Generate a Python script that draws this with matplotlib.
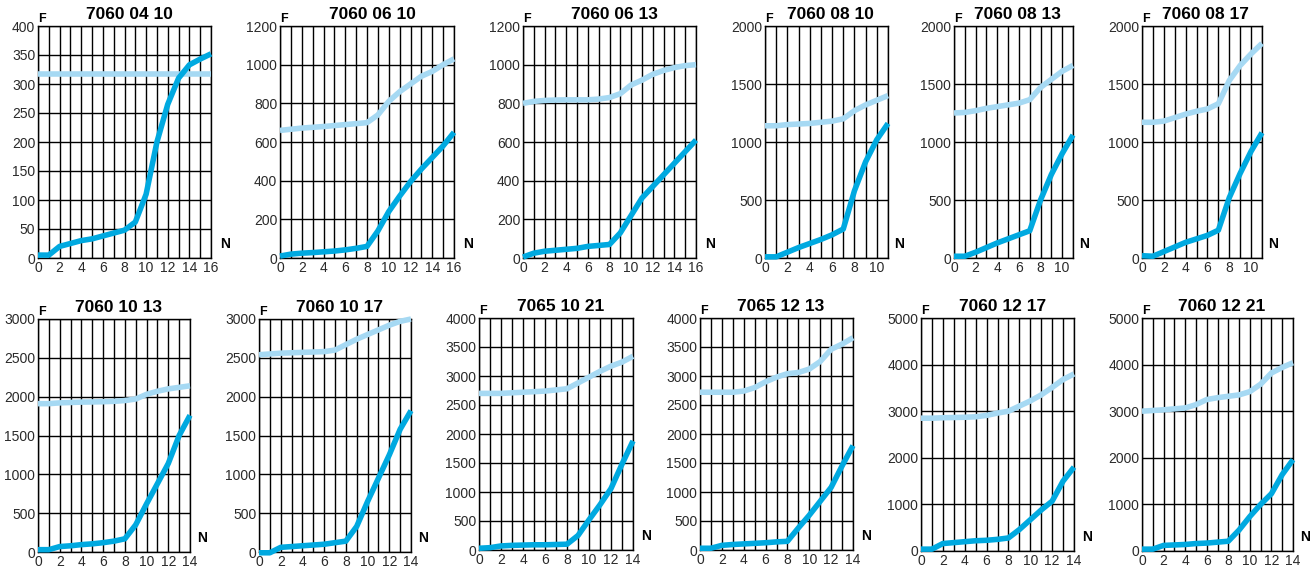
import numpy as np
import matplotlib.pyplot as plt

plt.rcParams['font.family'] = ['Liberation Sans', 'DejaVu Sans']

# chart titles, one per panel
titles = ['7060 04 10', '7060 06 10', '7060 06 13', '7060 08 10', '7060 08 13', '7060 08 17',
          '7060 10 13', '7060 10 17', '7065 10 21', '7065 12 13', '7060 12 17', '7060 12 21']
x_max = [16, 16, 16, 11, 11, 11, 14, 14, 14, 14, 14, 14]
y_max = [400, 1200, 1200, 2000, 2000, 2000, 3000, 3000, 4000, 4000, 5000, 5000]
y_step = [50, 200, 200, 500, 500, 500, 500, 500, 500, 500, 1000, 1000]

# dark curve values at N = 0, 1, 2, ...
dark_0410 = [5, 5, 20, 25, 30, 33, 38, 43, 48, 62, 110, 200, 265, 310, 333, 343, 352]
dark_0610 = [10, 20, 25, 28, 32, 36, 42, 50, 60, 140, 240, 320, 395, 460, 520, 580, 650]
dark_0613 = [5, 25, 35, 40, 45, 50, 60, 65, 70, 130, 220, 310, 370, 430, 490, 550, 610]
dark_0810 = [10, 10, 50, 90, 125, 160, 200, 250, 580, 830, 1020, 1160]
dark_0813 = [15, 15, 50, 90, 130, 165, 200, 235, 500, 720, 900, 1060]
dark_0817 = [20, 15, 55, 95, 135, 165, 195, 240, 520, 730, 920, 1080]
dark_1013 = [30, 30, 70, 80, 95, 105, 120, 140, 170, 350, 620, 880, 1140, 1500, 1760]
dark_1017 = [-10, -10, 60, 70, 80, 90, 100, 120, 140, 330, 650, 950, 1250, 1580, 1820]
dark_1021 = [30, 40, 70, 80, 85, 90, 90, 95, 100, 250, 520, 780, 1060, 1480, 1880]
dark_1213 = [30, 30, 80, 95, 105, 115, 125, 140, 150, 380, 600, 840, 1080, 1450, 1800]
dark_1217 = [40, 40, 160, 180, 200, 220, 230, 250, 280, 460, 670, 880, 1070, 1500, 1800]
dark_1221 = [40, 40, 120, 130, 140, 160, 170, 190, 210, 450, 740, 1000, 1230, 1640, 1960]

# light curve values at N = 0, 1, 2, ...
light_0410 = [318] * 17
light_0610 = [660, 666, 672, 676, 680, 685, 690, 695, 700, 740, 810, 860, 900, 940, 965, 1000, 1030]
light_0613 = [800, 810, 815, 817, 818, 818, 818, 822, 830, 850, 895, 920, 950, 970, 985, 995, 1000]
light_0810 = [1140, 1140, 1150, 1155, 1160, 1170, 1180, 1200, 1270, 1320, 1360, 1400]
light_0813 = [1250, 1255, 1270, 1290, 1305, 1320, 1335, 1365, 1470, 1540, 1610, 1660]
light_0817 = [1170, 1170, 1180, 1210, 1240, 1265, 1285, 1330, 1530, 1660, 1760, 1850]
light_1013 = [1910, 1910, 1920, 1925, 1930, 1932, 1935, 1940, 1950, 1970, 2030, 2070, 2100, 2120, 2140]
light_1017 = [2540, 2550, 2560, 2565, 2570, 2575, 2580, 2600, 2670, 2740, 2800, 2860, 2920, 2970, 3000]
light_1021 = [2700, 2700, 2700, 2710, 2720, 2730, 2740, 2760, 2780, 2880, 2980, 3080, 3170, 3240, 3340]
light_1213 = [2720, 2720, 2720, 2720, 2740, 2800, 2900, 2980, 3040, 3060, 3120, 3250, 3460, 3550, 3660]
light_1217 = [2850, 2850, 2860, 2865, 2870, 2880, 2910, 2960, 3000, 3110, 3220, 3350, 3510, 3680, 3800]
light_1221 = [3000, 3015, 3030, 3050, 3070, 3140, 3250, 3290, 3320, 3350, 3420, 3580, 3820, 3940, 4040]

dark = [dark_0410, dark_0610, dark_0613, dark_0810, dark_0813, dark_0817,
        dark_1013, dark_1017, dark_1021, dark_1213, dark_1217, dark_1221]
light = [light_0410, light_0610, light_0613, light_0810, light_0813, light_0817,
         light_1013, light_1017, light_1021, light_1213, light_1217, light_1221]

W, H = 1316, 571
# axes boxes in pixels: left, right, top, bottom
boxes = [(38, 211, 26, 258), (280, 454, 26, 258), (523, 696, 26, 258),
         (765, 888, 26, 258), (954, 1073, 26, 258), (1142, 1262, 26, 258),
         (38, 190, 319, 552), (259, 411, 319, 552), (479, 633, 318, 550),
         (700, 853, 318, 550), (921, 1074, 318, 551), (1142, 1293, 318, 551)]

DARK = '#00a9e0'
LIGHT = '#a6d9f3'

fig = plt.figure(figsize=(W / 100, H / 100), dpi=100)

for i in range(12):
    l, r, t, b = boxes[i]
    ax = fig.add_axes([l / W, 1 - b / H, (r - l) / W, (b - t) / H])
    n = np.arange(len(dark[i]))
    ax.plot(n, light[i], color=LIGHT, lw=4, solid_capstyle='butt', zorder=3, clip_on=False)
    ax.plot(n, dark[i], color=DARK, lw=4, solid_capstyle='butt', zorder=4, clip_on=False)
    ax.set_xlim(0, x_max[i])
    ax.set_ylim(0, y_max[i])
    ax.set_xticks(np.arange(0, x_max[i] + 1, 2))
    ax.set_xticks(np.arange(0, x_max[i] + 1, 1), minor=True)
    ax.set_yticks(np.arange(0, y_max[i] + 1, y_step[i]))
    ax.grid(True, which='both', axis='x', color='black', lw=1.0)
    ax.grid(True, which='major', axis='y', color='black', lw=1.0)
    ax.tick_params(which='both', length=0, labelsize=10, colors='#2a2a2a', pad=2)
    for s in ax.spines.values():
        s.set_color('black')
        s.set_linewidth(1.0)
    ax.set_title(titles[i], fontsize=12.5, fontweight='bold', pad=5, x=0.53)
    ax.text(0, 1.005, 'F', transform=ax.transAxes, fontsize=9, fontweight='bold',
            ha='left', va='bottom')
    ax.text(1.05, 0.03, 'N', transform=ax.transAxes, fontsize=10, fontweight='bold',
            ha='left', va='bottom')

fig.savefig('out.png', dpi=100)
